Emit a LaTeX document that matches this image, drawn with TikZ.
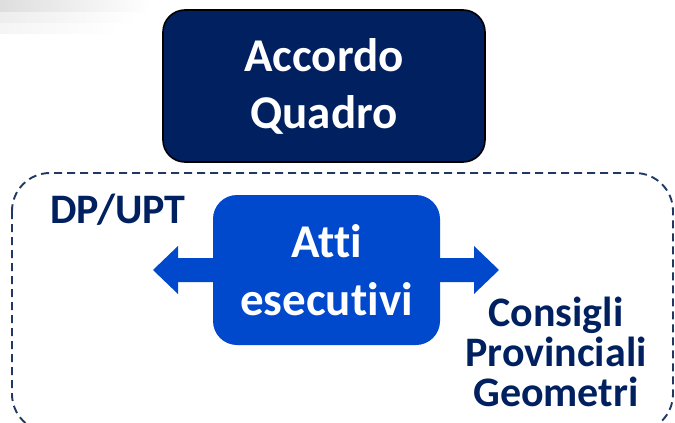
\documentclass[tikz,border=0pt]{standalone}
\usepackage{fontspec}
\setmainfont{Carlito}[Ligatures={NoCommon}]
\definecolor{navy}{HTML}{002060}
\definecolor{bluebox}{HTML}{0048CC}
\definecolor{dashcol}{HTML}{1F3864}
\begin{document}
\begin{tikzpicture}[x=1pt,y=-1pt,
  topbox/.style={draw=black, line width=1.6pt, fill=navy, rounded corners=22pt,
    minimum width=322pt, minimum height=152pt, text=white, align=center,
    font=\bfseries\fontsize{47}{57}\selectfont, inner sep=0pt},
  actbox/.style={fill=bluebox, rounded corners=24pt,
    minimum width=227pt, minimum height=150pt, text=white, align=center,
    font=\bfseries\fontsize{47}{58}\selectfont, inner sep=0pt},
  lbl/.style={text=navy, align=center, inner sep=0pt},
  group/.style={draw=dashcol, line width=1.9pt, dash pattern=on 8pt off 5pt, rounded corners=38pt}
]
\useasboundingbox (0,0) rectangle (675,423);
\clip (0,0) rectangle (675,423);
% top-left grey band
\shade[left color=black!13, right color=white] (0,0) rectangle (150,12);
\shade[left color=black!7, right color=white] (0,12) rectangle (135,23);
\shade[left color=black!4, right color=white] (0,23) rectangle (120,33);
% dashed group
\draw[group] (12,173) rectangle (673,432);
% top box
\node[topbox] (aq) at (324,86) {Accordo\\Quadro};
% double arrow behind executive box
\fill[bluebox] (153,270) -- (178,246) -- (178,258) -- (474,258) -- (474,246)
  -- (499,270) -- (474,294) -- (474,282) -- (178,282) -- (178,294) -- cycle;
\node[actbox] (ae) at (326.5,270) {Atti\\esecutivi};
% labels
\node[lbl, anchor=base, font=\bfseries\fontsize{42}{50}\selectfont] (dp) at (118,223) {DP/UPT};
\node[lbl, font=\bfseries\fontsize{42}{40}\selectfont] (cpg) at (556,352) {Consigli\\Provinciali\\Geometri};
\end{tikzpicture}
\end{document}
